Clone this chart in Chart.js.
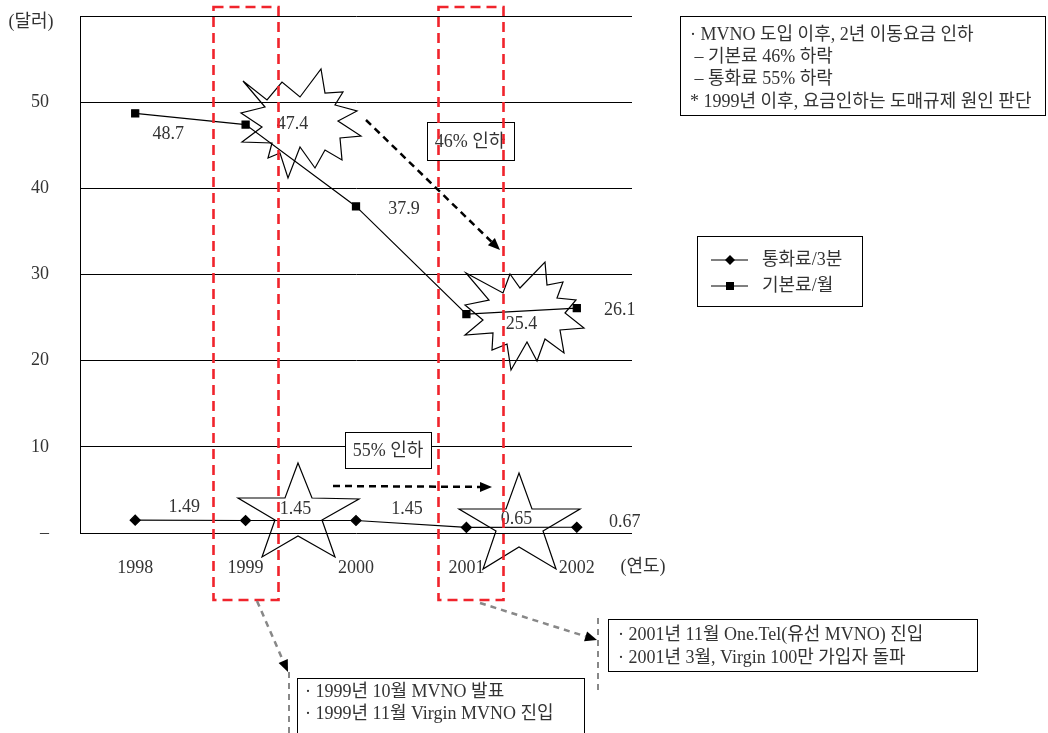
<!DOCTYPE html>
<html>
<head>
<meta charset="utf-8">
<script src="https://cdn.jsdelivr.net/npm/chart.js@4.4.1/dist/chart.umd.min.js"></script>
<style>
  body { margin: 0; background: #fff; }
  #wrap { width: 1048px; height: 733px; }
</style>
</head>
<body>
<div id="wrap"><canvas id="chart"></canvas></div>
<script>
// data
const years = ['1998', '1999', '2000', '2001', '2002'];
const callRate = [1.49, 1.45, 1.45, 0.65, 0.67];   // 통화료/3분
const baseRate = [48.7, 47.4, 37.9, 25.4, 26.1];   // 기본료/월
const seriesNames = ['통화료/3분', '기본료/월'];

const FONT = '"Liberation Serif", "Noto Sans CJK KR", serif';
const TXT = '#333';
const FS = 18;

// where each value label sits relative to its point
const baseLabelOff = [[33, 21], [47, 0], [48, 3], [55, 10], [43, 2]];
const callLabelOff = [[49, -13], [50, -11], [51, -11], [50, -8], [48, -5]];

function poly(ctx, pts) {
    ctx.beginPath();
    pts.forEach((p, i) => i ? ctx.lineTo(p[0], p[1]) : ctx.moveTo(p[0], p[1]));
    ctx.closePath();
    ctx.stroke();
}

function arrow(ctx, x1, y1, x2, y2, color, dash) {
    const a = Math.atan2(y2 - y1, x2 - x1);
    const hl = 12;
    ctx.save();
    ctx.strokeStyle = color;
    ctx.lineWidth = 2.5;
    ctx.setLineDash(dash);
    ctx.beginPath();
    ctx.moveTo(x1, y1);
    ctx.lineTo(x2 - hl * Math.cos(a), y2 - hl * Math.sin(a));
    ctx.stroke();
    ctx.setLineDash([]);
    ctx.fillStyle = '#000';
    ctx.beginPath();
    ctx.moveTo(x2, y2);
    ctx.lineTo(x2 - hl * Math.cos(a) + 5 * Math.sin(a), y2 - hl * Math.sin(a) - 5 * Math.cos(a));
    ctx.lineTo(x2 - hl * Math.cos(a) - 5 * Math.sin(a), y2 - hl * Math.sin(a) + 5 * Math.cos(a));
    ctx.closePath();
    ctx.fill();
    ctx.restore();
}

function textBox(ctx, x, y, w, h, lines, lx, ly0, lh) {
    ctx.save();
    ctx.fillStyle = '#fff';
    ctx.fillRect(x, y, w, h);
    ctx.strokeStyle = '#000';
    ctx.lineWidth = 1;
    ctx.strokeRect(x + 0.5, y + 0.5, w, h);
    ctx.fillStyle = TXT;
    ctx.font = FS + 'px ' + FONT;
    ctx.textAlign = 'left';
    ctx.textBaseline = 'middle';
    lines.forEach((t, i) => ctx.fillText(t, lx, ly0 + i * lh));
    ctx.restore();
}

const burst1 = [[243, 81], [267, 100], [282, 82], [300, 97], [321, 69], [325, 93], [343, 92], [335, 105],
    [357, 111], [338, 121], [361, 136], [340, 138], [342, 160], [325, 150], [315, 168], [300, 147],
    [288, 178], [280, 153], [268, 158], [272, 143], [242, 142], [262, 127], [241, 113], [265, 107]];
const burst2 = [[466, 273], [503, 293], [510, 274], [520, 288], [545, 262], [547, 285], [563, 282], [557, 298],
    [576, 300], [565, 313], [584, 328], [560, 330], [564, 353], [545, 339], [537, 361], [527, 342],
    [511, 370], [507, 344], [492, 350], [493, 333], [465, 335], [483, 320], [465, 305], [489, 300]];
const star1 = [[298, 463], [312, 498], [359, 499], [322, 520], [335, 557], [298, 536], [262, 557], [275, 520], [238, 498], [285, 498]];
const star2 = [[519, 473], [532, 509], [580, 509], [543, 531], [556, 569], [519, 547], [483, 569], [496, 531], [459, 509], [506, 509]];

const decorations = {
    id: 'decorations',
    afterDraw(chart) {
        const ctx = chart.ctx;
        const meta0 = chart.getDatasetMeta(0), meta1 = chart.getDatasetMeta(1);

        // value labels
        ctx.save();
        ctx.font = FS + 'px ' + FONT;
        ctx.fillStyle = TXT;
        ctx.textAlign = 'center';
        ctx.textBaseline = 'middle';
        meta0.data.forEach((p, i) => ctx.fillText(callRate[i].toFixed(2), p.x + callLabelOff[i][0], p.y + callLabelOff[i][1]));
        meta1.data.forEach((p, i) => ctx.fillText(baseRate[i].toFixed(1), p.x + baseLabelOff[i][0], p.y + baseLabelOff[i][1]));

        // axis captions
        ctx.fillText('(달러)', 31, 22);
        ctx.fillText('(연도)', 643, 567);
        ctx.restore();

        // bursts and stars
        ctx.save();
        ctx.strokeStyle = '#000';
        ctx.lineWidth = 1.2;
        poly(ctx, burst1);
        poly(ctx, burst2);
        poly(ctx, star1);
        poly(ctx, star2);
        ctx.restore();

        // percentage boxes
        ctx.save();
        ctx.font = FS + 'px ' + FONT;
        ctx.fillStyle = '#fff';
        ctx.strokeStyle = '#000';
        ctx.lineWidth = 1;
        ctx.fillRect(427, 122, 87, 38);
        ctx.strokeRect(427.5, 122.5, 87, 38);
        ctx.fillRect(345, 432, 86, 36);
        ctx.strokeRect(345.5, 432.5, 86, 36);
        ctx.fillStyle = TXT;
        ctx.textAlign = 'center';
        ctx.textBaseline = 'middle';
        ctx.fillText('46% 인하', 470, 142);
        ctx.fillText('55% 인하', 388, 451);
        ctx.restore();

        arrow(ctx, 366, 120, 500, 250, '#000', [7, 5]);
        arrow(ctx, 333, 486, 492, 487, '#000', [7, 5]);

        // red dashed frames
        ctx.save();
        ctx.strokeStyle = '#f0242c';
        ctx.lineWidth = 2.6;
        ctx.setLineDash([10, 6]);
        ctx.strokeRect(213.5, 7, 65, 593);
        ctx.strokeRect(438.5, 7, 65, 593);
        ctx.restore();

        // grey connectors
        ctx.save();
        ctx.strokeStyle = '#888';
        ctx.lineWidth = 2;
        ctx.setLineDash([6, 5]);
        ctx.beginPath();
        ctx.moveTo(289, 672); ctx.lineTo(289, 733);
        ctx.moveTo(598, 618); ctx.lineTo(598, 690);
        ctx.stroke();
        ctx.restore();
        arrow(ctx, 257, 601, 288, 672, '#888', [6, 5]);
        arrow(ctx, 480, 603, 597, 640, '#888', [6, 5]);

        // note boxes
        textBox(ctx, 680, 16, 365, 99, [
            '· MVNO 도입 이후, 2년 이동요금 인하',
            ' – 기본료 46% 하락',
            ' – 통화료 55% 하락',
            '* 1999년 이후, 요금인하는 도매규제 원인 판단'
        ], 690, 35, 22.3);
        textBox(ctx, 608, 619, 369, 52, [
            '· 2001년 11월 One.Tel(유선 MVNO) 진입',
            '· 2001년 3월, Virgin 100만 가입자 돌파'
        ], 618, 635, 23);
        textBox(ctx, 297, 678, 287, 60, [
            '· 1999년 10월 MVNO 발표',
            '· 1999년 11월 Virgin MVNO 진입'
        ], 305, 692, 22);

        // legend
        ctx.save();
        ctx.fillStyle = '#fff';
        ctx.fillRect(697, 236, 165, 70);
        ctx.strokeStyle = '#000';
        ctx.lineWidth = 1;
        ctx.strokeRect(697.5, 236.5, 165, 70);
        ctx.beginPath();
        ctx.moveTo(711, 260); ctx.lineTo(748, 260);
        ctx.moveTo(711, 286); ctx.lineTo(748, 286);
        ctx.stroke();
        ctx.fillStyle = '#000';
        ctx.beginPath();
        ctx.moveTo(730, 255); ctx.lineTo(735, 260); ctx.lineTo(730, 265); ctx.lineTo(725, 260);
        ctx.closePath(); ctx.fill();
        ctx.fillRect(726, 282, 8, 8);
        ctx.fillStyle = TXT;
        ctx.font = FS + 'px ' + FONT;
        ctx.textAlign = 'left';
        ctx.textBaseline = 'middle';
        ctx.fillText(seriesNames[0], 762, 260);
        ctx.fillText(seriesNames[1], 762, 286);
        ctx.restore();
    }
};

new Chart(document.getElementById('chart'), {
    type: 'line',
    data: {
        labels: years,
        datasets: [{
            label: seriesNames[0],
            data: callRate,
            borderColor: '#000',
            backgroundColor: '#000',
            borderWidth: 1.2,
            pointStyle: 'rectRot',
            pointRadius: 5,
            pointHoverRadius: 5
        }, {
            label: seriesNames[1],
            data: baseRate,
            borderColor: '#000',
            backgroundColor: '#000',
            borderWidth: 1.2,
            pointStyle: 'rect',
            pointRadius: 5,
            pointHoverRadius: 5
        }]
    },
    options: {
        responsive: true,
        maintainAspectRatio: false,
        animation: false,
        layout: { padding: { left: 0, top: 16, right: 416, bottom: 0 } },
        plugins: { legend: { display: false }, tooltip: { enabled: false } },
        scales: {
            x: {
                offset: true,
                grid: { display: false },
                border: { display: false },
                ticks: { color: TXT, font: { family: FONT, size: FS }, padding: 16, maxRotation: 0 },
                afterFit(s) { s.height = 200; s.paddingLeft = 0; s.paddingRight = 0; }
            },
            y: {
                min: 0,
                max: 60,
                ticks: {
                    stepSize: 10,
                    color: TXT,
                    font: { family: FONT, size: FS },
                    padding: 31,
                    callback: v => v === 0 ? '–' : (v === 60 ? '' : v)
                },
                grid: { color: '#000', lineWidth: 1, drawTicks: false },
                border: { display: true, color: '#000', width: 1 },
                afterFit(s) { s.width = 80; s.paddingTop = 0; s.paddingBottom = 0; }
            }
        }
    },
    plugins: [decorations]
});
</script>
</body>
</html>
